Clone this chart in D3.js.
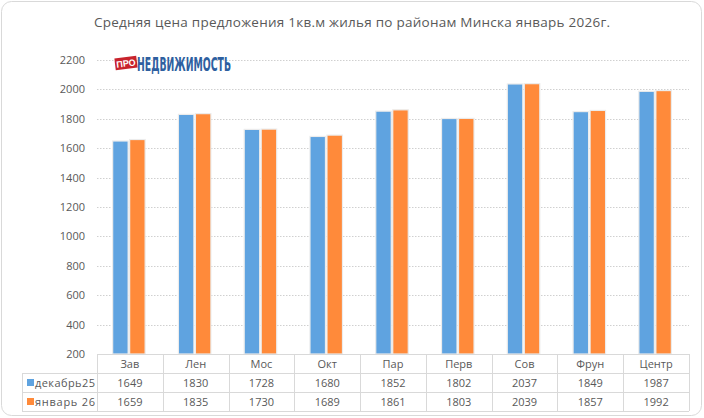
<!DOCTYPE html>
<html>
<head>
<meta charset="utf-8">
<script src="https://cdn.jsdelivr.net/npm/d3@7"></script>
<style>
  html, body { margin: 0; padding: 0; background: #fff; }
  svg text { font-family: "Open Sans", "Noto Sans", sans-serif; }
</style>
</head>
<body>
<div id="viz"></div>
<script>
// chart data
var districts = ["Зав", "Лен", "Мос", "Окт", "Пар", "Перв", "Сов", "Фрун", "Центр"];
var seriesNames = ["декабрь25", "январь 26"];
var dec25 = [1649, 1830, 1728, 1680, 1852, 1802, 2037, 1849, 1987];
var jan26 = [1659, 1835, 1730, 1689, 1861, 1803, 2039, 1857, 1992];
var yTicks = [200, 400, 600, 800, 1000, 1200, 1400, 1600, 1800, 2000, 2200];
var colors = ["#5fa3e0", "#ff8a3a"];

var width = 704, height = 418;
var plotLeft = 97, plotRight = 689, plotTop = 60, plotBottom = 354;
var rowH = 19;
var legendLeft = 22;

var svg = d3.select("#viz").append("svg")
    .attr("width", width)
    .attr("height", height);

// outer frame
svg.append("rect")
    .attr("x", 1.5).attr("y", 1.5)
    .attr("width", width - 4).attr("height", height - 4)
    .attr("rx", 10).attr("ry", 10)
    .attr("fill", "#fff")
    .attr("stroke", "#d9d9d9")
    .attr("stroke-width", 1);

// title
svg.append("text")
    .attr("x", 352).attr("y", 27)
    .attr("text-anchor", "middle")
    .attr("font-size", 13.5)
    .attr("fill", "#595959")
    .attr("textLength", 516)
    .attr("lengthAdjust", "spacing")
    .text("Средняя цена предложения 1кв.м жилья по районам Минска январь 2026г.");

var x = d3.scaleBand()
    .domain(districts)
    .range([plotLeft, plotRight])
    .paddingInner(0)
    .paddingOuter(0);

var y = d3.scaleLinear()
    .domain([200, 2200])
    .range([plotBottom, plotTop]);

// gridlines
svg.append("g").selectAll("line")
    .data(yTicks.filter(function (d) { return d > 200; }))
    .enter().append("line")
    .attr("x1", plotLeft).attr("x2", plotRight)
    .attr("y1", function (d) { return Math.round(y(d)) + 0.5; })
    .attr("y2", function (d) { return Math.round(y(d)) + 0.5; })
    .attr("stroke", "#d0d0d0")
    .attr("stroke-dasharray", "1.5,1.5")
    .attr("stroke-width", 1);

// y axis labels
var yAxis = d3.axisLeft(y).tickValues(yTicks).tickFormat(d3.format("d")).tickSize(0).tickPadding(12);
var yg = svg.append("g")
    .attr("transform", "translate(" + plotLeft + ",0)")
    .call(yAxis);
yg.select(".domain").remove();
yg.selectAll("text")
    .attr("font-size", 11)
    .attr("fill", "#595959")
    .style("font-family", "'Open Sans', 'Noto Sans', sans-serif");

// bars
var barW = 15.5, barGap = 1.5;
var series = [dec25, jan26];
series.forEach(function (vals, si) {
    svg.append("g").selectAll("rect")
        .data(vals)
        .enter().append("rect")
        .attr("x", function (d, i) {
            var c = x(districts[i]) + x.bandwidth() / 2 - 1;
            return si === 0 ? c - barGap / 2 - barW : c + barGap / 2;
        })
        .attr("y", function (d) { return y(d); })
        .attr("width", barW)
        .attr("height", function (d) { return plotBottom - y(d); })
        .attr("fill", colors[si])
        .attr("stroke", "#ececec")
        .attr("stroke-width", 1.2);
});

// logo
var logo = svg.append("g").attr("transform", "translate(115,56)");
logo.append("rect")
    .attr("x", 0).attr("y", 1)
    .attr("width", 22).attr("height", 12)
    .attr("transform", "rotate(-7 11 7)")
    .attr("fill", "#c8232c");
logo.append("text")
    .attr("x", 11).attr("y", 10.5)
    .attr("text-anchor", "middle")
    .attr("transform", "rotate(-7 11 7)")
    .attr("font-size", 9)
    .attr("font-weight", "bold")
    .attr("fill", "#fff")
    .style("font-family", "'Liberation Sans', sans-serif")
    .text("ПРО");
logo.append("text")
    .attr("x", 22).attr("y", 15)
    .attr("font-size", 19)
    .attr("font-weight", "bold")
    .attr("fill", "#2e5fa0")
    .attr("textLength", 94)
    .attr("lengthAdjust", "spacingAndGlyphs")
    .style("font-family", "'Liberation Sans Narrow', 'DejaVu Sans Condensed', sans-serif")
    .text("НЕДВИЖИМОСТЬ");

// data table
var tbl = svg.append("g");
var lineColor = "#d9d9d9";
var tableBottom = plotBottom + rowH * 3;

// horizontal lines
[plotBottom, plotBottom + rowH, plotBottom + rowH * 2, tableBottom].forEach(function (yy, k) {
    tbl.append("line")
        .attr("x1", k === 0 ? plotLeft : legendLeft).attr("x2", plotRight)
        .attr("y1", yy + 0.5).attr("y2", yy + 0.5)
        .attr("stroke", lineColor);
});
// vertical lines
var vx = [plotLeft].concat(districts.map(function (d) { return x(d) + x.bandwidth(); }));
vx.forEach(function (xx) {
    tbl.append("line")
        .attr("x1", Math.round(xx) + 0.5).attr("x2", Math.round(xx) + 0.5)
        .attr("y1", plotBottom).attr("y2", tableBottom)
        .attr("stroke", lineColor);
});
tbl.append("line")
    .attr("x1", legendLeft + 0.5).attr("x2", legendLeft + 0.5)
    .attr("y1", plotBottom + rowH).attr("y2", tableBottom)
    .attr("stroke", lineColor);

// category labels
tbl.selectAll("text.cat")
    .data(districts)
    .enter().append("text")
    .attr("class", "cat")
    .attr("x", function (d) { return x(d) + x.bandwidth() / 2; })
    .attr("y", plotBottom + 14)
    .attr("text-anchor", "middle")
    .attr("font-size", 11)
    .attr("fill", "#595959")
    .text(function (d) { return d; });

// values
series.forEach(function (vals, si) {
    tbl.selectAll("text.v" + si)
        .data(vals)
        .enter().append("text")
        .attr("class", "v" + si)
        .attr("x", function (d, i) { return x(districts[i]) + x.bandwidth() / 2; })
        .attr("y", plotBottom + rowH * (si + 1) + 14)
        .attr("text-anchor", "middle")
        .attr("font-size", 11)
        .attr("fill", "#595959")
        .text(function (d) { return d; });

    tbl.append("rect")
        .attr("x", legendLeft + 5).attr("y", plotBottom + rowH * (si + 1) + 6)
        .attr("width", 7).attr("height", 7)
        .attr("fill", colors[si]);
    tbl.append("text")
        .attr("x", legendLeft + 13).attr("y", plotBottom + rowH * (si + 1) + 14)
        .attr("font-size", 11)
        .attr("fill", "#595959")
        .attr("textLength", 60)
        .attr("lengthAdjust", "spacing")
        .text(seriesNames[si]);
});
</script>
</body>
</html>
